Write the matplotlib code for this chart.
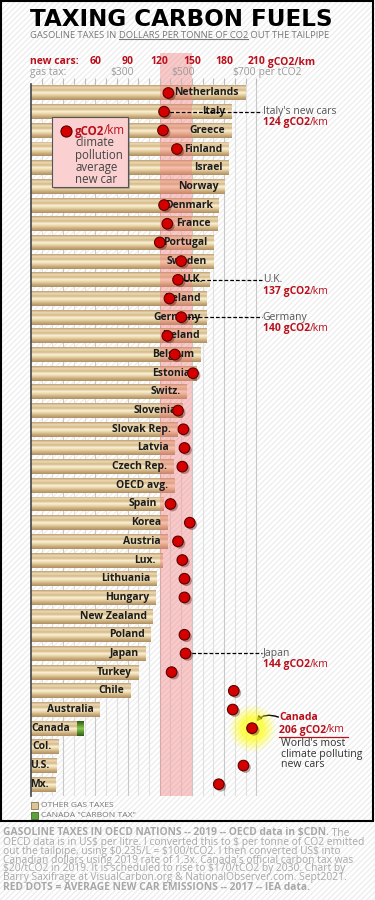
import numpy as np
import matplotlib.pyplot as plt
import matplotlib.patheffects as pe
from matplotlib.patches import Rectangle
from matplotlib.lines import Line2D
from matplotlib.colors import LinearSegmentedColormap
from matplotlib.transforms import blended_transform_factory

plt.rcParams['font.family'] = ['Open Sans', 'DejaVu Sans']

# gasoline taxes, $CDN per tonne CO2 out the tailpipe (OECD 2019)
countries = ["Netherlands", "Italy", "Greece", "Finland", "Israel", "Norway",
             "Denmark", "France", "Portugal", "Sweden", "U.K.", "Ireland",
             "Germany", "Iceland", "Belgium", "Estonia", "Switz.", "Slovenia",
             "Slovak Rep.", "Latvia", "Czech Rep.", "OECD avg.", "Spain", "Korea",
             "Austria", "Lux.", "Lithuania", "Hungary", "New Zealand", "Poland",
             "Japan", "Turkey", "Chile", "Australia", "Canada", "Col.", "U.S.", "Mx."]
gas_tax = [702, 659, 656, 649, 649, 636, 616, 610, 600, 597, 584, 577,
           577, 574, 557, 544, 511, 498, 479, 472, 466, 469, 433, 449,
           446, 430, 413, 407, 400, 393, 374, 351, 325, 226, 170, 89, 82, 79]
carbon_tax = [0] * 34 + [20, 0, 0, 0]
# average new car emissions, gCO2/km (IEA 2017)
car_gco2 = [128, 124, 123, 136, np.nan, np.nan, 124, 127, 120, 140, 137, 129,
            140, 127, 134, 151, np.nan, 137, 142, 143, 141, np.nan, 130, 148,
            137, 141, 143, 143, np.nan, 143, 144, 131, 189, 188, 206, np.nan, 198, 175]

callouts = {"Italy": "Italy's new cars", "U.K.": "U.K.", "Germany": "Germany", "Japan": "Japan"}
gco2_ticks = [60, 90, 120, 150, 180, 210]
tax_ticks = [300, 500, 700]

W, H = 375, 900
RED = "#b8101c"
GRAY = "#9a9a9a"


def fx(x):
    return x / W


def fy(y):
    return 1 - y / H


fig = plt.figure(figsize=(W / 100, H / 100), dpi=100)
fig.patch.set_facecolor("white")
plt.rcParams['hatch.color'] = "#ebebeb"
plt.rcParams['hatch.linewidth'] = 0.8
fig.add_artist(Rectangle((0, 0), 1, 1, transform=fig.transFigure, facecolor="white",
                         hatch="//////", edgecolor="#ebebeb", lw=0, zorder=-5))

ax = fig.add_axes([fx(31), fy(796), fx(365) - fx(31), fy(84) - fy(796)])
ax.set_facecolor("none")
ax2 = ax.twiny()
ax2.set_facecolor("none")

TAX_PX = 0.305    # pixels per $
G_PX = 1.073      # pixels per gCO2/km
ax.set_xlim(0, 334 / TAX_PX)
ax2.set_xlim(0, 334 / G_PX)
ylim = (37.63, -0.48)

rows = np.arange(len(countries))
bar_h = 0.8
other = np.array(gas_tax) - np.array(carbon_tax)

# grid lines every 10 gCO2/km
grid_tr = blended_transform_factory(ax2.transData, ax.transAxes)
for g in range(10, 220, 10):
    ax.plot([g, g], [0, 1], transform=grid_tr, color="#c8c8c8" if g % 30 == 0 else "#e0e0e0",
            lw=0.8, zorder=0)

# textured bars
tan = LinearSegmentedColormap.from_list(
    "tan", ["#bfa074", "#ecdbb6", "#d6b985", "#faf2dc", "#e8d2a2", "#caac7c", "#ae9064"])
green = LinearSegmentedColormap.from_list("grn", ["#2f5a18", "#86c94a", "#2f5a18"])
grad = np.linspace(0, 1, 64).reshape(-1, 1)
bars = ax.barh(rows, other, height=bar_h, color="#ddc9a2", lw=0, zorder=1)
for b in bars:
    im = ax.imshow(grad, cmap=tan, aspect="auto", zorder=1.5,
                   extent=(b.get_x(), b.get_x() + b.get_width(), b.get_y() + b.get_height(), b.get_y()))
    im.set_clip_path(b)
cbars = ax.barh(rows, carbon_tax, left=other, height=bar_h, color="#5fa03a", lw=0, zorder=1)
for b in cbars:
    if b.get_width() > 0:
        im = ax.imshow(grad, cmap=green, aspect="auto", zorder=1.5,
                       extent=(b.get_x(), b.get_x() + b.get_width(), b.get_y() + b.get_height(), b.get_y()))
        im.set_clip_path(b)
ax.set_xlim(0, 334 / TAX_PX)
ax.set_ylim(*ylim)

# pink band of typical new cars 120-150 gCO2/km
ax2.axvspan(120, 150, ymin=0, ymax=(796 - 53) / (796 - 84), color="#f07a7a", alpha=0.4,
            lw=0, clip_on=False, zorder=1)

# country labels
for i, (c, v) in enumerate(zip(countries, other)):
    ax2.annotate(c, xy=(v, i), xycoords=ax.transData, xytext=(-4.5, 0), textcoords="offset points",
                 ha="right", va="center", fontsize=7.5, fontweight="bold", color="#1c1c1c", zorder=3)

# callout lines
for i, c in enumerate(countries):
    if c in callouts:
        ax2.plot([car_gco2[i], 215], [i, i], ls=(0, (3, 1.6)), color="black", lw=0.9, zorder=4,
                 clip_on=False)
        ax2.text(216, i, callouts[c], ha="left", va="center", fontsize=7.5, color="#555555")
        t = ax2.text(216, i + 0.6, f"{car_gco2[i]:.0f} gCO2", ha="left", va="center",
                     fontsize=7.5, fontweight="bold", color=RED)
        ax2.annotate("/km", xy=(1, 0), xycoords=t, va="bottom", ha="left", fontsize=7.5, color=RED)

# Canada glow
ci = countries.index("Canada")
for s, a in [(1100, 0.15), (800, 0.2), (550, 0.3), (350, 0.45)]:
    ax2.scatter([car_gco2[ci]], [ci], s=s, color="#ffff20", alpha=a, lw=0, zorder=4)

# red dots
ax2.scatter(car_gco2, rows, s=58, color="#d40000", edgecolors="#5a0000", linewidths=0.8, zorder=5,
            path_effects=[pe.SimplePatchShadow(offset=(1.5, -1.5), alpha=0.35), pe.Normal()])

ax2.set_ylim(*ylim)
ax.set_ylim(*ylim)
for a in (ax, ax2):
    for s in ("right", "bottom", "top", "left"):
        a.spines[s].set_visible(False)
ax.spines["left"].set_visible(True)
ax.spines["left"].set_color("#444444")
ax.spines["left"].set_linewidth(1.2)
ax.set_yticks([])
ax.set_xticks([])
ax2.set_xticks(range(10, 220, 10))
ax2.set_xticklabels([])
ax2.tick_params(axis="x", length=4, color="#bbbbbb", width=0.8, top=True, bottom=False)
ax2.set_yticks([])

# axis labels on top
fig.text(fx(30), fy(62), "new cars:", fontsize=7.5, fontweight="bold", color=RED, va="center")
fig.text(fx(30), fy(72.5), "gas tax:", fontsize=7.4, color=GRAY, va="center")
top_y = blended_transform_factory(ax2.transData, fig.transFigure)
for g in gco2_ticks:
    t = ax2.text(g, fy(62), str(g), transform=top_y, ha="center", va="center",
                 fontsize=7.5, fontweight="bold", color=RED)
    if g == gco2_ticks[-1]:
        ax2.annotate(" gCO2/km", xy=(1, 0), xycoords=t, va="bottom", ha="left",
                     fontsize=7.5, fontweight="bold", color=RED)
tax_y = blended_transform_factory(ax.transData, fig.transFigure)
for v in tax_ticks:
    t = ax2.text(v, fy(72.5), f"\\${v}", transform=tax_y, ha="center", va="center",
                 fontsize=7.4, color=GRAY)
    if v == tax_ticks[-1]:
        ax2.annotate(" per tCO2", xy=(1, 0), xycoords=t, va="bottom", ha="left", fontsize=7.4, color=GRAY)

# title
fig.text(fx(181), fy(19.5), "TAXING CARBON FUELS", ha="center", va="center",
         fontsize=16.6, fontweight="bold", color="black", family="DejaVu Sans")
t1 = fig.text(fx(30), fy(35), "GASOLINE TAXES IN ", fontsize=6.75, color="#777777", va="center")
t2 = ax2.annotate("DOLLARS PER TONNE OF CO2", xy=(1, 0), xycoords=t1, va="bottom", ha="left",
                  fontsize=6.75, color="#777777")
ax2.annotate(" OUT THE TAILPIPE", xy=(1, 0), xycoords=t2, va="bottom", ha="left",
             fontsize=6.75, color="#777777")

# legend box for red dots
fig.add_artist(Rectangle((fx(54), fy(189)), fx(76), 70 / H, transform=fig.transFigure,
                         facecolor="#777777", alpha=0.5, lw=0, zorder=9))
fig.add_artist(Rectangle((fx(52), fy(187)), fx(76), 70 / H, transform=fig.transFigure,
                         facecolor="#fad0d0", edgecolor="#555555", lw=0.8, zorder=10))
fig.add_artist(Line2D([fx(66)], [fy(131)], marker="o", ms=8, color="#d40000", mec="#5a0000",
                      mew=0.8, transform=fig.transFigure, zorder=11))
tl = fig.text(fx(75), fy(131), "gCO2", fontsize=8.3, fontweight="bold", color=RED, va="center", zorder=11)
fig.text(fx(75), fy(136.5), "climate\npollution\naverage\nnew car", fontsize=8.3, color="#444444",
         va="top", linespacing=0.92, zorder=11)

# Canada callout
fig.text(fx(279), fy(718), "Canada", fontsize=7.5, fontweight="bold", color=RED, va="center")
tc = fig.text(fx(279), fy(730), f"{car_gco2[ci]:.0f} gCO2", fontsize=7.5, fontweight="bold",
              color=RED, va="center")
ax2.annotate("/km", xy=(1, 0), xycoords=tc, va="bottom", ha="left", fontsize=7.5, color=RED)
fig.add_artist(Line2D([fx(279), fx(348)], [fy(736.5), fy(736.5)], color=RED, lw=0.9,
                      transform=fig.transFigure))
fig.text(fx(281), fy(738.5), "World's most\nclimate polluting\nnew cars", fontsize=7.6,
         color="#333333", va="top", linespacing=0.9)
ax2.annotate("", xy=(car_gco2[ci], ci), xytext=(19, 8), textcoords="offset points",
             arrowprops=dict(arrowstyle="-|>", connectionstyle="arc3,rad=0.45", color="black",
                             lw=1, mutation_scale=7, shrinkA=0, shrinkB=6))

# bottom legend
fig.add_artist(Rectangle((fx(31), fy(809)), fx(7), 7 / H, transform=fig.transFigure,
                         facecolor="#dcc49a", edgecolor="#8a7350", lw=0.6))
fig.add_artist(Rectangle((fx(31), fy(819)), fx(7), 7 / H, transform=fig.transFigure,
                         facecolor="#5fa03a", edgecolor="#3d6b1f", lw=0.6))
fig.text(fx(41), fy(805.5), "OTHER GAS TAXES", fontsize=6.1, color="#777777", va="center")
fig.text(fx(41), fy(815.5), 'CANADA "CARBON TAX"', fontsize=6.1, color="#777777", va="center")

# frame
fig.add_artist(Rectangle((fx(1), fy(821)), fx(372), 820 / H, transform=fig.transFigure,
                         facecolor="none", edgecolor="black", lw=1.5, zorder=20))

# footnote
notes = [
    "OECD data is in US\\$ per litre. I converted this to \\$ per tonne of CO2 emitted",
    "out the tailpipe, using \\$0.235/L = \\$100/tCO2. I then converted US\\$ into",
    "Canadian dollars using 2019 rate of 1.3x. Canada's official carbon tax was",
    "\\$20/tCO2 in 2019. It is scheduled to rise to \\$170/tCO2 by 2030. Chart by",
    "Barry Saxifrage at VisualCarbon.org & NationalObserver.com. Sept2021.",
]
NOTE = "#a8a8a8"
tb = fig.text(fx(3), fy(833), "GASOLINE TAXES IN OECD NATIONS -- 2019 -- OECD data in \\$CDN.",
              fontsize=7.4, fontweight="bold", color=NOTE, va="center")
ax2.annotate(" The", xy=(1, 0), xycoords=tb, va="bottom", ha="left", fontsize=7.4, color=NOTE)
fig.text(fx(3), fy(837.5), "\n".join(notes), fontsize=7.4, color=NOTE, va="top", linespacing=0.69)
fig.text(fx(3), fy(887), "RED DOTS = AVERAGE NEW CAR EMISSIONS -- 2017 -- IEA data.",
         fontsize=7.4, fontweight="bold", color=NOTE, va="center")

# finish the pieces that depend on measured text extents
fig.canvas.draw()
bb = t2.get_window_extent()
fig.add_artist(Line2D([bb.x0, bb.x1], [bb.y0 + 1, bb.y0 + 1], color="#777777", lw=0.8, transform=None))
bl = tl.get_window_extent()
fig.text(bl.x1 / fig.bbox.width, fy(131), "/km", fontsize=8.3, color=RED, va="center", zorder=11)

fig.savefig("out.png", dpi=100)
